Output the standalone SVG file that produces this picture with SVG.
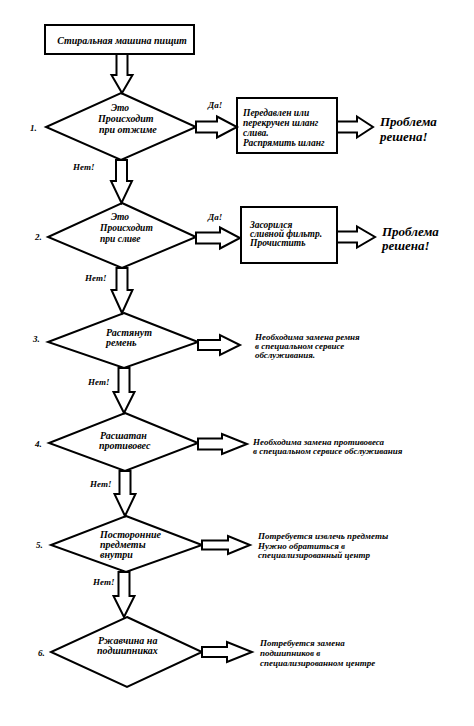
<svg xmlns="http://www.w3.org/2000/svg" width="474" height="726" viewBox="0 0 474 726">
<style>
text{font-family:"Liberation Serif","Times New Roman",serif;font-weight:bold;font-style:italic;fill:#000}
.s{font-size:9.5px}
.m{font-size:10px}
.t{font-size:9.5px}
.b{font-size:13px}
.n{font-size:9px}
.shape{fill:#fff;stroke:#000;stroke-width:2}
.arr{fill:#fff;stroke:#000;stroke-width:2;stroke-linejoin:miter}
</style>
<rect width="474" height="726" fill="#fff"/>
<g id="start">
<rect class="shape" x="45" y="25" width="149" height="29"/>
<text class="m" x="122" y="44" text-anchor="middle">Стиральная машина пищит</text>
</g>
<g id="d1">
<polygon class="shape" points="121,93 196,127 121,160 46,127"/>
<text class="t" x="120" y="111" text-anchor="middle">Это</text>
<text class="m" x="98" y="122">Происходит</text>
<text class="m" x="99" y="133">при отжиме</text>
<text class="n" x="30" y="131">1.</text>
</g>
<g id="box1">
<rect class="shape" x="237" y="98" width="100" height="55"/>
<text class="s" x="243" y="116">Передавлен или</text>
<text class="s" x="243" y="126">перекручен шланг</text>
<text class="s" x="243" y="136">слива.</text>
<text class="s" x="243" y="146">Распрямить шланг</text>
</g>
<g id="ok1">
<text class="b" x="380" y="126">Проблема</text>
<text class="b" x="380" y="141">решена!</text>
</g>
<g id="d2">
<polygon class="shape" points="122,203 196,237 122,268 48,237"/>
<text class="t" x="120" y="220" text-anchor="middle">Это</text>
<text class="t" x="100" y="231">Происходит</text>
<text class="t" x="100" y="242">при сливе</text>
<text class="n" x="35" y="240">2.</text>
</g>
<g id="box2">
<rect class="shape" x="241" y="207" width="96" height="56"/>
<text class="s" x="250" y="228">Засорился</text>
<text class="s" x="250" y="237">сливной фильтр.</text>
<text class="s" x="250" y="246">Прочистить</text>
</g>
<g id="ok2">
<text class="b" x="382" y="236">Проблема</text>
<text class="b" x="382" y="250">решена!</text>
</g>
<g id="d3">
<polygon class="shape" points="124,313 198,342 124,368 48,342"/>
<text class="m" x="106" y="336">Растянут</text>
<text class="m" x="106" y="346">ремень</text>
<text class="n" x="33" y="342">3.</text>
</g>
<g id="r3">
<text class="n" x="255" y="340">Необходима замена ремня</text>
<text class="n" x="255" y="349">в специальном сервисе</text>
<text class="n" x="255" y="358">обслуживания.</text>
</g>
<g id="d4">
<polygon class="shape" points="125,413 198,443 125,471 49,443"/>
<text class="m" x="100" y="439">Расшатан</text>
<text class="m" x="99" y="449">противовес</text>
<text class="n" x="35" y="447">4.</text>
</g>
<g id="r4">
<text class="n" x="253" y="445">Необходима замена противовеса</text>
<text class="n" x="253" y="454">в специальном сервисе обслуживания</text>
</g>
<g id="d5">
<polygon class="shape" points="126,516 202,545 126,572 51,545"/>
<text class="m" x="100" y="538">Посторонние</text>
<text class="m" x="100" y="548">предметы</text>
<text class="m" x="100" y="558">внутри</text>
<text class="n" x="36" y="548">5.</text>
</g>
<g id="r5">
<text class="n" x="258" y="539">Потребуется извлечь предметы</text>
<text class="n" x="258" y="549">Нужно обратиться в</text>
<text class="n" x="258" y="558">специализированный центр</text>
</g>
<g id="d6">
<polygon class="shape" points="127,617 202,652 127,687 51,652"/>
<text class="m" x="98" y="644">Ржавчина на</text>
<text class="m" x="97" y="654">подшипниках</text>
<text class="n" x="38" y="656">6.</text>
</g>
<g id="r6">
<text class="n" x="260" y="646">Потребуется замена</text>
<text class="n" x="260" y="656">подшипников в</text>
<text class="n" x="260" y="666">специализированном центре</text>
</g>
<g id="connectors">
<polygon class="arr" points="116.5,54 127.5,54 127.5,75 132.5,75 122,93 111.5,75 116.5,75"/>
<polygon class="arr" points="116,160 127,160 127,181 132,181 121.5,203 111,181 116,181"/>
<polygon class="arr" points="116.5,268 127.5,268 127.5,290 132.5,290 122,313 111.5,290 116.5,290"/>
<polygon class="arr" points="118.5,368 129.5,368 129.5,392 134.5,392 124,413 113.5,392 118.5,392"/>
<polygon class="arr" points="119.5,471 130.5,471 130.5,494 135.5,494 125,516 114.5,494 119.5,494"/>
<polygon class="arr" points="118.5,572 129.5,572 129.5,596 134.5,596 124,617 113.5,596 118.5,596"/>
<polygon class="arr" points="196,121.5 217,121.5 217,116.5 237,127 217,137.5 217,132.5 196,132.5"/>
<polygon class="arr" points="337,121.5 357,121.5 357,116.5 373,127 357,137.5 357,132.5 337,132.5"/>
<polygon class="arr" points="196,232.5 220,232.5 220,227.5 240,238 220,248.5 220,243.5 196,243.5"/>
<polygon class="arr" points="337,231.5 357,231.5 357,226.5 375,237 357,247.5 357,242.5 337,242.5"/>
<polygon class="arr" points="198,340 220,340 220,335 240,345 220,355 220,350 198,350"/>
<polygon class="arr" points="198,438.5 222,438.5 222,434 247,444 222,454 222,449.5 198,449.5"/>
<polygon class="arr" points="202,540.5 228,540.5 228,536 250,545 228,554 228,549.5 202,549.5"/>
<polygon class="arr" points="202,647 227,647 227,642 252,652 227,662 227,657 202,657"/>
<text class="n" x="208" y="108">Да!</text>
<text class="n" x="73" y="170">Нет!</text>
<text class="n" x="208" y="220">Да!</text>
<text class="n" x="85" y="281">Нет!</text>
<text class="n" x="88" y="385">Нет!</text>
<text class="n" x="90" y="487">Нет!</text>
<text class="n" x="93" y="585">Нет!</text>
</g>
</svg>
